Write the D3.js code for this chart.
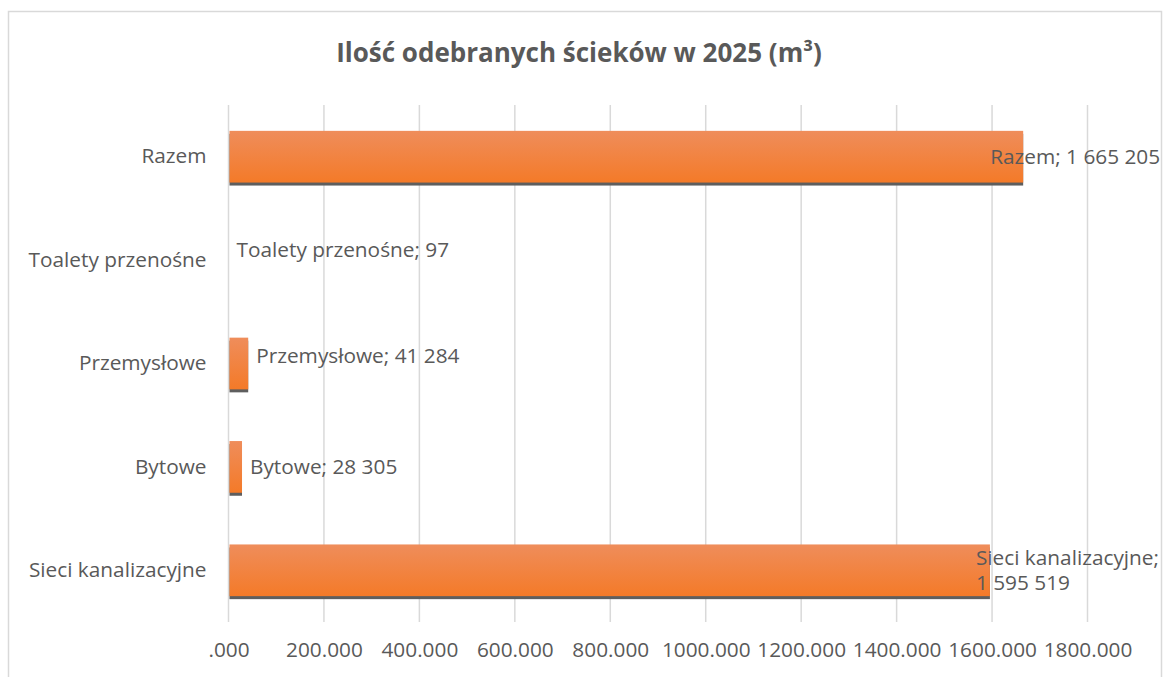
<!DOCTYPE html>
<html>
<head>
<meta charset="utf-8">
<script src="https://cdn.jsdelivr.net/npm/d3@7"></script>
<style>
  body { margin: 0; background: #fff; }
  text { font-family: "Open Sans", sans-serif; fill: #595959; }
</style>
</head>
<body>
<div class="g-chart"></div>
<script>
//Chart data
var categories = ["Sieci kanalizacyjne", "Bytowe", "Przemysłowe", "Toalety przenośne", "Razem"];
var values = [1595519, 28305, 41284, 97, 1665205];
var labelLines = [["Sieci kanalizacyjne;", "1 595 519"], ["Bytowe; 28 305"], ["Przemysłowe; 41 284"], ["Toalety przenośne; 97"], ["Razem; 1 665 205"]];
var tickValues = [0, 200000, 400000, 600000, 800000, 1000000, 1200000, 1400000, 1600000, 1800000];
var tickLabels = [".000", "200.000", "400.000", "600.000", "800.000", "1000.000", "1200.000", "1400.000", "1600.000", "1800.000"];
var title = "Ilość odebranych ścieków w 2025 (m³)";

var W = 1163, H = 677;
var margin = {top: 105, right: 75, bottom: 55, left: 228.5};
var width = 1087.5 - margin.left,
    height = 622 - margin.top;
var fs = "20.8px";

var svg = d3.select(".g-chart").append("svg")
  .attr("width", W)
  .attr("height", H);

//Gradient for bars
var grad = svg.append("defs").append("linearGradient")
  .attr("id", "barGrad").attr("x1", 0).attr("y1", 0).attr("x2", 0).attr("y2", 1);
grad.append("stop").attr("offset", "0%").attr("stop-color", "#ef8d5b");
grad.append("stop").attr("offset", "100%").attr("stop-color", "#f47a28");

//Chart border
svg.append("rect")
  .attr("x", 8.5).attr("y", 11.5)
  .attr("width", 1153).attr("height", 700)
  .attr("fill", "none")
  .attr("stroke", "#d9d9d9")
  .attr("stroke-width", 1.5);

//Title
svg.append("text")
  .attr("x", 579).attr("y", 62)
  .attr("text-anchor", "middle")
  .style("font-size", "26px")
  .style("font-weight", "bold")
  .text(title);

var g = svg.append("g")
  .attr("transform", "translate(" + margin.left + "," + margin.top + ")");

var xScale = d3.scaleLinear().domain([0, 1800000]).range([0, width]);
var yScale = d3.scaleBand().domain(categories).range([height, 0]).paddingInner(0.5).paddingOuter(0.25);

//Gridlines
g.selectAll(".grid")
  .data(tickValues)
  .enter().append("line")
  .attr("x1", function(d) { return xScale(d); })
  .attr("x2", function(d) { return xScale(d); })
  .attr("y1", 0).attr("y2", height)
  .attr("stroke", "#d9d9d9")
  .attr("stroke-width", 1.5);

//X axis
var xAxis = d3.axisBottom(xScale)
  .tickValues(tickValues)
  .tickFormat(function(d, i) { return tickLabels[i]; })
  .tickSize(0)
  .tickPadding(20);
var xg = g.append("g").attr("transform", "translate(0," + height + ")").call(xAxis);
xg.select(".domain").remove();
xg.selectAll("text").style("font-size", fs).style("font-family", "'Open Sans', sans-serif").attr("fill", "#595959");

//Y axis
var yAxis = d3.axisLeft(yScale).tickSize(0).tickPadding(22);
var yg = g.append("g").call(yAxis);
yg.select(".domain").remove();
yg.selectAll("text").style("font-size", fs).style("font-family", "'Open Sans', sans-serif").attr("fill", "#595959");

//Bars with shadow
var bh = yScale.bandwidth();
var groups = g.selectAll(".bar")
  .data(values)
  .enter().append("g")
  .attr("transform", function(d, i) { return "translate(0," + yScale(categories[i]) + ")"; });

groups.append("rect")
  .attr("x", 1)
  .attr("y", 3)
  .attr("width", function(d) { return Math.max(0, xScale(d) - 1); })
  .attr("height", bh)
  .attr("fill", "#5e5e5e");

groups.append("rect")
  .attr("x", 1)
  .attr("y", 0)
  .attr("width", function(d) { return Math.max(0, xScale(d) - 1); })
  .attr("height", bh)
  .attr("fill", "url(#barGrad)");

//Data labels
groups.each(function(d, i) {
  var lines = labelLines[i];
  var big = xScale(d) > 400;
  var x = big ? xScale(d) - (lines.length > 1 ? 14 : 33) : xScale(d) + 8;
  var cy = bh / 2 - (i === 3 ? 10 : (i === 2 ? 8 : 0));
  var t = d3.select(this).append("text")
    .attr("x", x)
    .style("font-size", fs);
  lines.forEach(function(line, k) {
    t.append("tspan")
      .attr("x", x)
      .attr("y", cy + (k - (lines.length - 1) / 2) * 25)
      .attr("dy", "0.35em")
      .text(line);
  });
});
</script>
</body>
</html>
